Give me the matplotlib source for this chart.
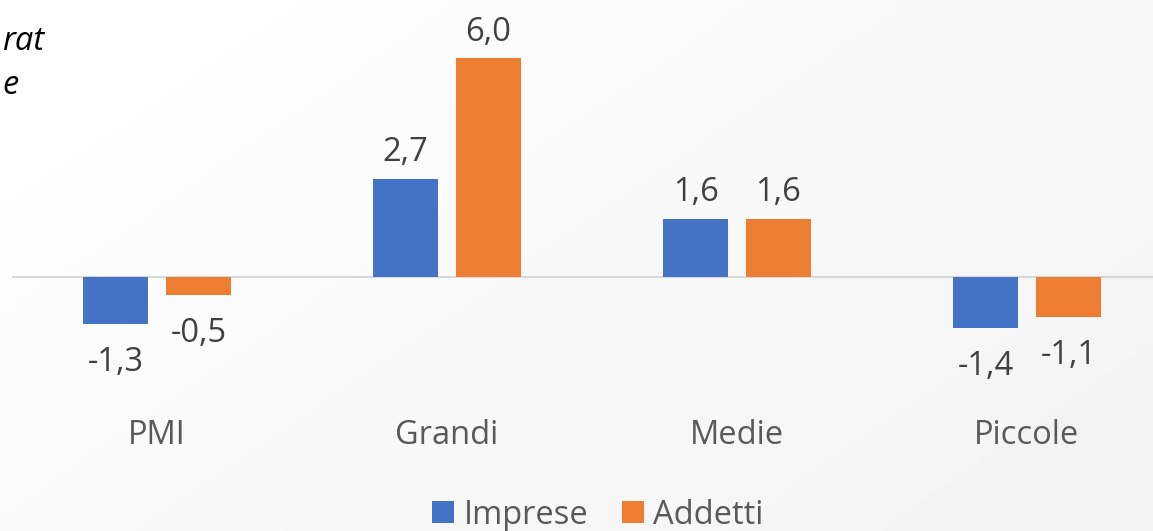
import matplotlib.pyplot as plt
import numpy as np

categorie = ["PMI", "Grandi", "Medie", "Piccole"]
imprese = [-1.3, 2.7, 1.6, -1.4]
addetti = [-0.5, 6.0, 1.6, -1.1]
serie = ["Imprese", "Addetti"]
colori = ["#4472C4", "#ED7D31"]

plt.rcParams["font.family"] = ["Open Sans", "DejaVu Sans"]

W, H = 1153, 531
fig = plt.figure(figsize=(W / 100, H / 100), dpi=100)

# sfondo con leggero gradiente
bg = fig.add_axes([0, 0, 1, 1], zorder=-10)
gx, gy = np.meshgrid(np.linspace(0, 1, 200), np.linspace(0, 1, 100))
grad = 1 - 0.05 * (0.6 * gx + 0.4 * gy)
bg.imshow(grad, cmap="gray", vmin=0, vmax=1, aspect="auto", extent=[0, 1, 0, 1])
bg.axis("off")

# asse: 290 px per categoria, parte da x=12 px (il grafico e' tagliato a destra)
ax = fig.add_axes([12 / W, (H - 408) / H, 1160 / W, 408 / H])
ax.set_facecolor("none")

fs = 23.5
x = np.arange(len(categorie))
w = 0.224
off = 0.143
for vals, name, c, d in [(imprese, serie[0], colori[0], -off), (addetti, serie[1], colori[1], off)]:
    bars = ax.bar(x + d, vals, w, color=c, label=name, zorder=2)
    for b, v in zip(bars, vals):
        ax.annotate(f"{v:.1f}".replace(".", ","), (b.get_x() + b.get_width() / 2, v),
                    xytext=(0, 7 if v >= 0 else -16), textcoords="offset points",
                    ha="center", va="bottom" if v >= 0 else "top",
                    fontsize=fs, color="#404040")

ax.axhline(0, color="#d9d9d9", lw=1.5, zorder=1)
ax.set_xlim(-0.5, 3.5)
ax.set_ylim(-3.6, 7.6)
ax.set_xticks(x)
ax.set_xticklabels(categorie, fontsize=fs, color="#595959")
ax.tick_params(axis="x", length=0, pad=8)
ax.set_yticks([])
for s in ax.spines.values():
    s.set_visible(False)

fig.text(2 / W, 1 - 42 / H, "rat", ha="left", va="center", fontsize=fs, style="italic", color="#000000")
fig.text(2 / W, 1 - 85 / H, "e", ha="left", va="center", fontsize=fs, style="italic", color="#000000")

fig.legend(loc="center", bbox_to_anchor=(598 / W, 16 / H), ncol=2, frameon=False,
           fontsize=fs, handlelength=0.68, handleheight=0.68, handletextpad=0.3,
           columnspacing=1.0, labelcolor="#595959")

fig.savefig("out.png", dpi=100)
